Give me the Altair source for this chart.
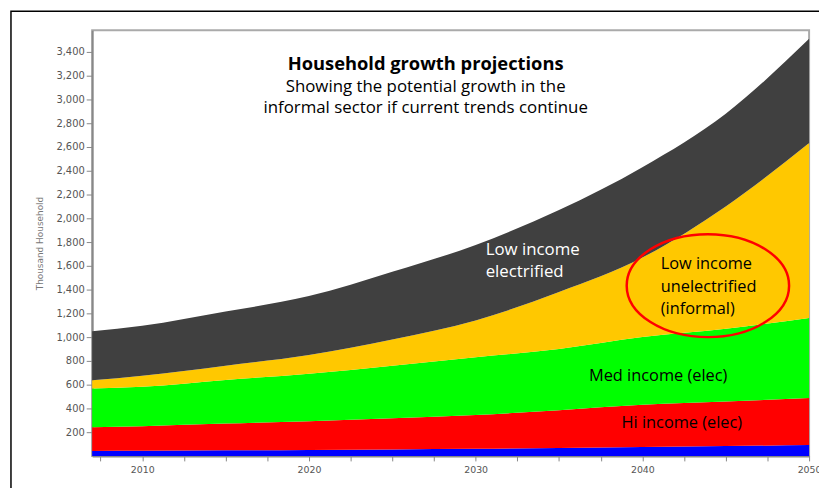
import altair as alt
import pandas as pd

# ---- data (thousand households) ----
years = [2007, 2010, 2015, 2020, 2025, 2030, 2035, 2040, 2045, 2050]
blue_band = [42, 44, 47, 50, 55, 60, 67, 75, 83, 92]
hi_income = [200, 206, 225, 242, 263, 285, 318, 355, 375, 396]
med_income = [325, 333, 368, 400, 442, 485, 515, 570, 612, 672]
low_unelec = [69, 92, 120, 158, 220, 310, 480, 670, 1030, 1473]
low_elec = [414, 420, 455, 495, 570, 635, 690, 760, 780, 877]

series_names = ["Other", "Hi income (elec)", "Med income (elec)",
                "Low income unelectrified (informal)", "Low income electrified"]
series_colors = ["#0000FF", "#FF0000", "#00FF00", "#FFC800", "#404040"]

y_ticks = [200, 400, 600, 800, 1000, 1200, 1400, 1600, 1800, 2000, 2200,
           2400, 2600, 2800, 3000, 3200, 3400]
x_ticks = [2007.5, 2010, 2012.5, 2015, 2017.5, 2020, 2022.5, 2025, 2027.5,
           2030, 2032.5, 2035, 2037.5, 2040, 2042.5, 2045, 2047.5, 2050]

# annotations (anchored in data units)
title_text = ["Household growth projections"]
title_year = [2027.0]
title_val = [3300]

subtitle_text = ["Showing the potential  growth in the",
                 "informal sector if current trends continue"]
subtitle_year = [2027.0, 2027.0]
subtitle_val = [3105, 2928]

white_text = ["Low income", "electrified"]
white_year = [2030.6, 2030.6]
white_val = [1735, 1550]

black_text = ["Low income", "unelectrified", "(informal)", "Med income (elec)", "Hi income (elec)"]
black_year = [2041.1, 2041.1, 2041.1, 2036.8, 2038.75]
black_val = [1612, 1425, 1240, 675, 275]

ellipse_year = [2043.93]
ellipse_val = [1433]

# ---- build tables ----
all_series = [blue_band, hi_income, med_income, low_unelec, low_elec]
rows = []
for i, (name, vals) in enumerate(zip(series_names, all_series)):
    for yr, v in zip(years, vals):
        rows.append({"year": yr, "series": name, "value": v, "idx": i})
df = pd.DataFrame(rows)

xs = alt.Scale(domain=[2007, 2050], nice=False, zero=False)
ys = alt.Scale(domain=[0, 3583], nice=False)

x_axis = alt.Axis(values=x_ticks, title=None, grid=False,
                  labelExpr="datum.value % 10 == 0 ? format(datum.value, 'd') : ''",
                  labelOverlap=False, labelFlush=False,
                  labelFont="DejaVu Sans", labelFontSize=9.5, labelColor="#555",
                  tickColor="#888", tickSize=5, labelPadding=4,
                  domainColor="#888", domainWidth=2)
y_axis = alt.Axis(values=y_ticks, format=",d", title="Thousand Household",
                  grid=False, labelOverlap=False, labelSeparation=0,
                  labelFont="DejaVu Sans", labelFontSize=10,
                  labelColor="#555", tickColor="#888", tickSize=6,
                  labelPadding=2, domainColor="#888", domainWidth=2,
                  titleFont="DejaVu Sans", titleFontSize=9,
                  titleFontWeight="normal", titleColor="#777",
                  titlePadding=12)

areas = alt.Chart(df).mark_area(interpolate="monotone").encode(
    x=alt.X("year:Q", scale=xs, axis=x_axis),
    y=alt.Y("value:Q", stack="zero", scale=ys, axis=y_axis),
    color=alt.Color("series:N", scale=alt.Scale(domain=series_names, range=series_colors),
                    legend=None),
    order=alt.Order("idx:Q", sort="ascending"),
)


def pos():
    return dict(x=alt.X("year:Q", scale=xs, axis=x_axis),
                y=alt.Y("value:Q", scale=ys, axis=y_axis))


tdf = pd.DataFrame({"t": title_text, "year": title_year, "value": title_val})
titles = alt.Chart(tdf).mark_text(align="center", baseline="middle", font="Open Sans",
                                  fontSize=18.5, fontWeight="bold", color="black").encode(
    text="t:N", **pos())

sdf = pd.DataFrame({"t": subtitle_text, "year": subtitle_year, "value": subtitle_val})
subtitles = alt.Chart(sdf).mark_text(align="center", baseline="middle", font="Open Sans",
                                     fontSize=17, color="black").encode(
    text="t:N", **pos())

wdf = pd.DataFrame({"t": white_text, "year": white_year, "value": white_val})
wtext = alt.Chart(wdf).mark_text(align="left", baseline="middle", font="Open Sans",
                                 fontSize=17, color="white").encode(
    text="t:N", **pos())

bdf = pd.DataFrame({"t": black_text, "year": black_year, "value": black_val})
btext = alt.Chart(bdf).mark_text(align="left", baseline="middle", font="Open Sans",
                                 fontSize=16.5, color="black").encode(
    text="t:N", **pos())

edf = pd.DataFrame({"year": ellipse_year, "value": ellipse_val})
ellipse = alt.Chart(edf).mark_point(
    shape="M -1 0 A 1 0.634 0 1 1 1 0 A 1 0.634 0 1 1 -1 0 Z",
    size=26896, filled=False, stroke="#FF0000", strokeWidth=2.5, opacity=1,
).encode(**pos())

frame = alt.Chart(edf).mark_rect(fillOpacity=0, stroke="black", strokeWidth=1.5).encode(
    x=alt.value(-82), x2=alt.value(800), y=alt.value(-19), y2=alt.value(520))

chart = alt.layer(areas, titles, subtitles, wtext, btext, ellipse, frame).properties(
    width=724, height=430,
    autosize=alt.AutoSizeParams(type="none"),
    padding={"left": 85, "top": 20, "right": 10, "bottom": 30},
    background="white",
).configure_view(stroke="#aaa", strokeWidth=2)

chart.save("out.html", embed_options={"renderer": "svg", "actions": False})
